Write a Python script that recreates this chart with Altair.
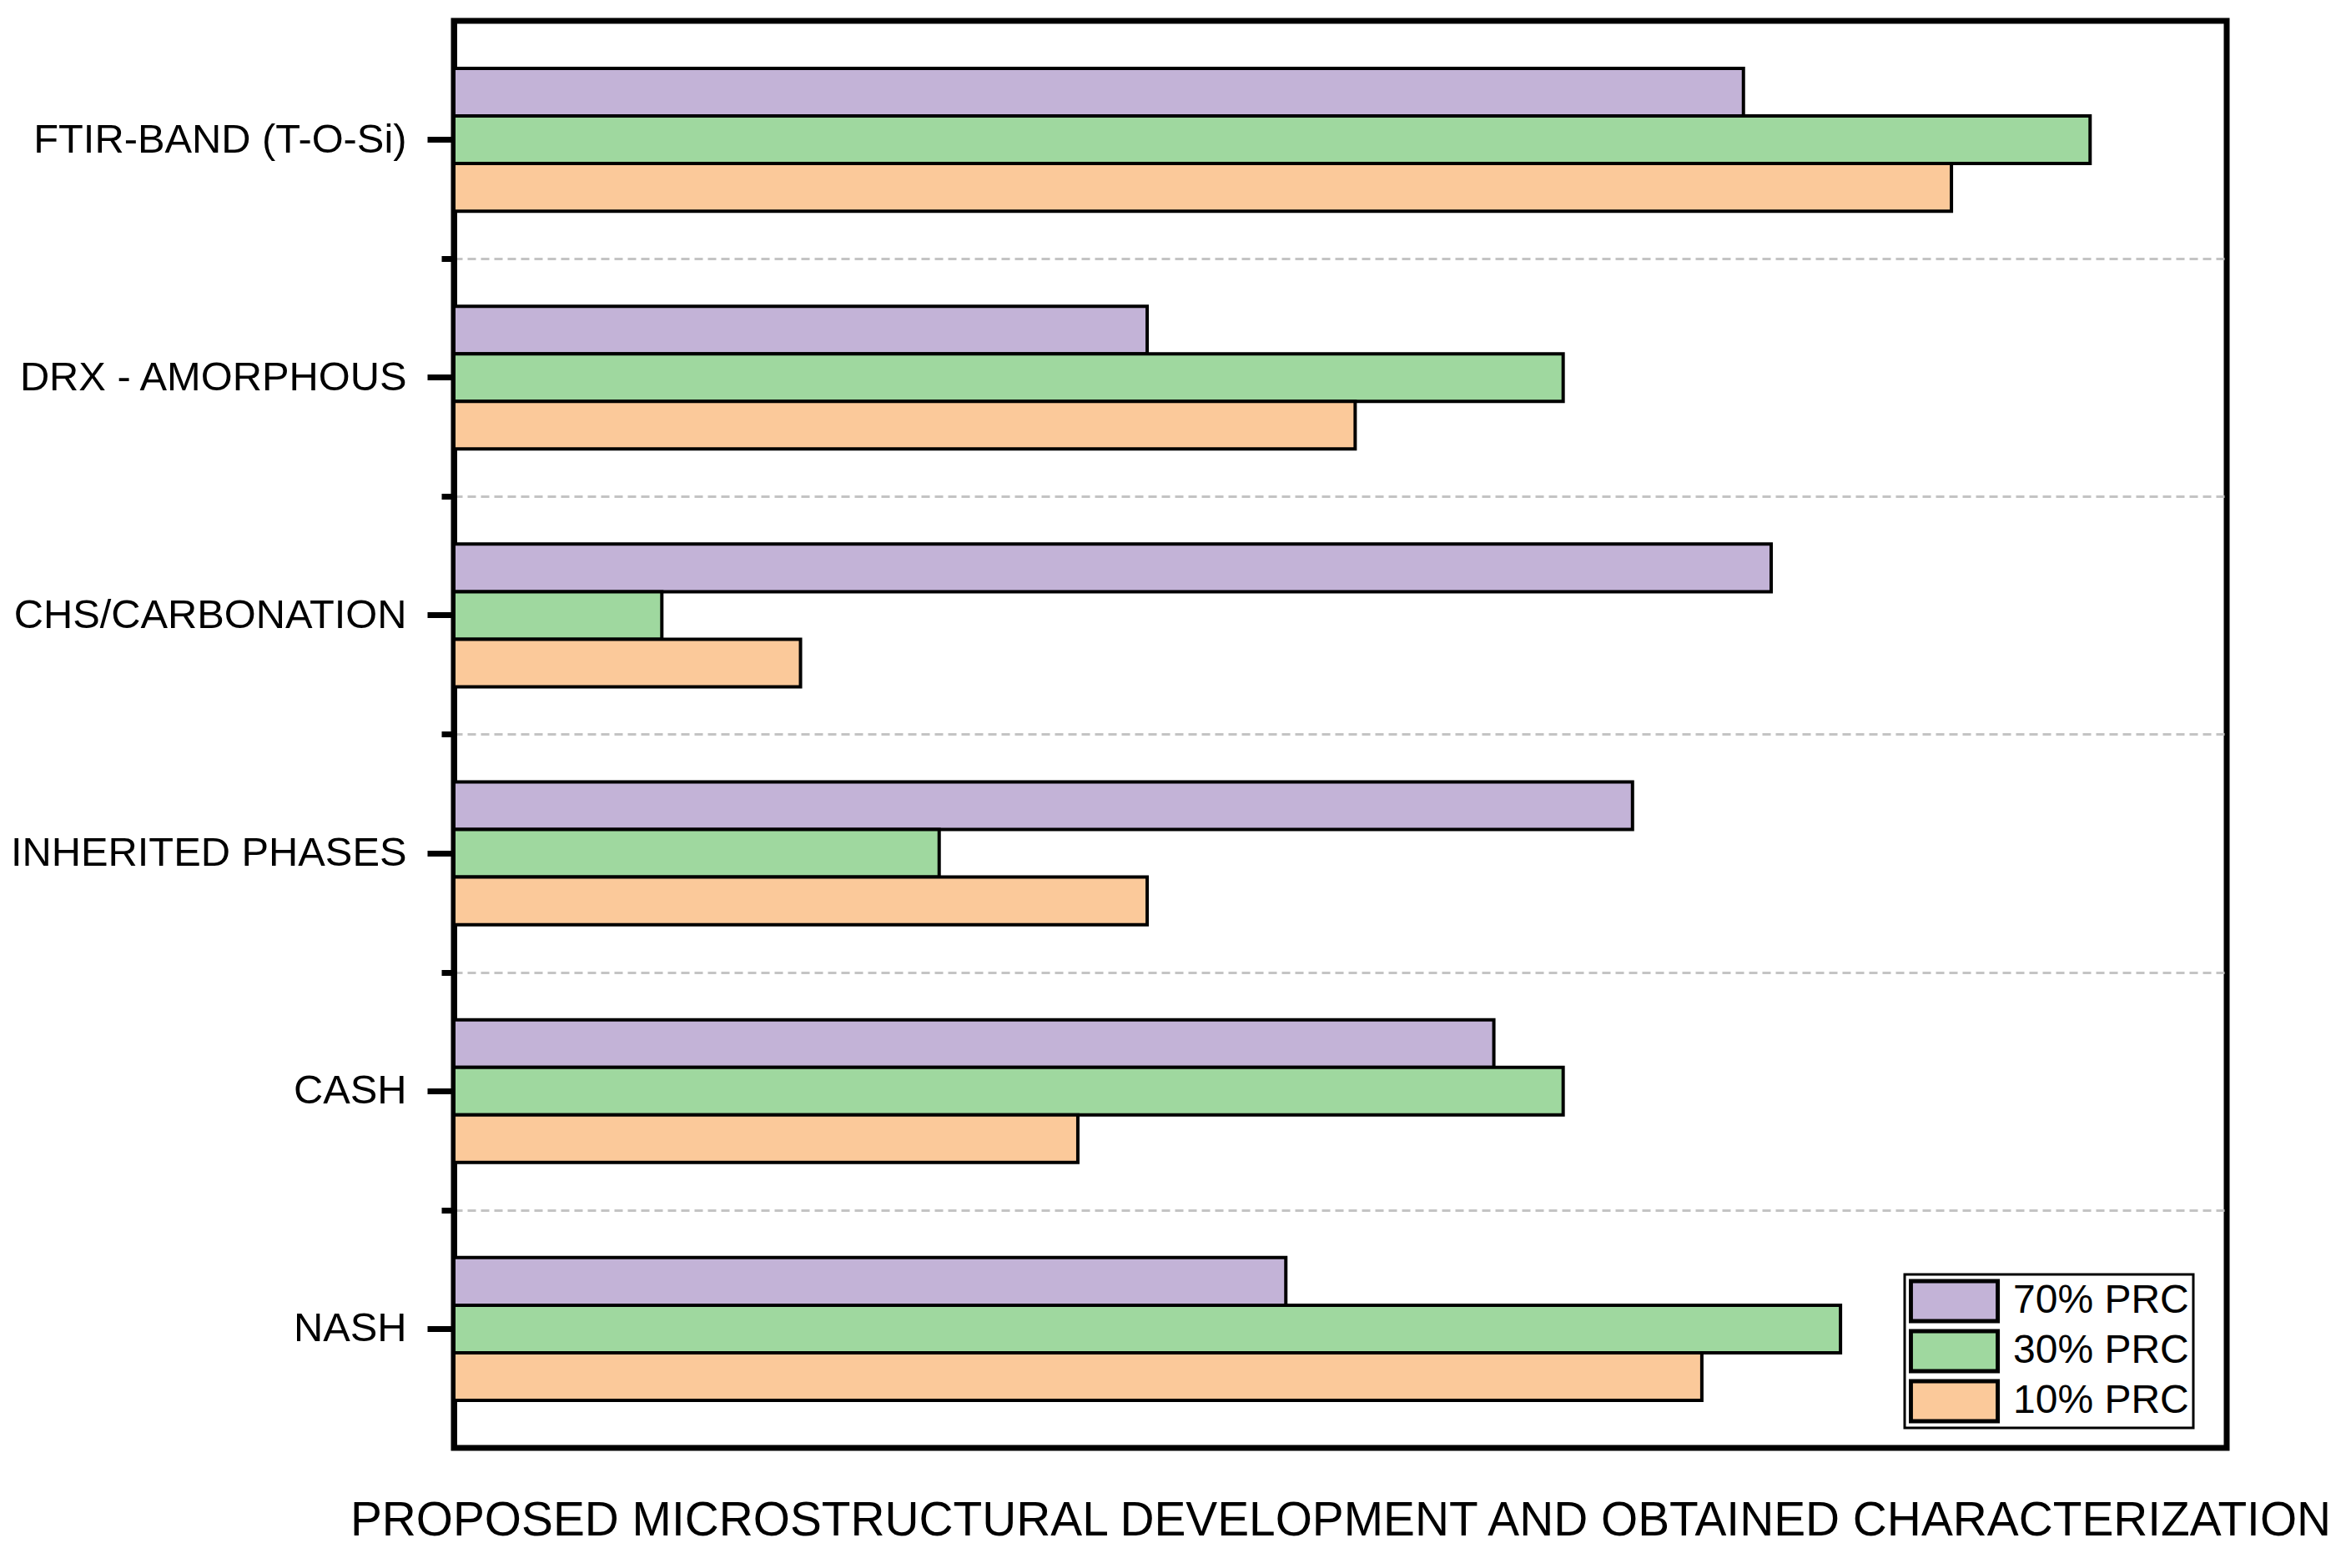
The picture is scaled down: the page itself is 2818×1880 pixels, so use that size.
import altair as alt
import pandas as pd

categories = ["FTIR-BAND (T-O-Si)", "DRX - AMORPHOUS", "CHS/CARBONATION",
              "INHERITED PHASES", "CASH", "NASH"]
series = ["70% PRC", "30% PRC", "10% PRC"]
prc70 = [18.6, 10, 19, 17, 15, 12]
prc30 = [23.6, 16, 3, 7, 16, 20]
prc10 = [21.6, 13, 5, 10, 9, 18]
colors = ["#C3B3D7", "#9FD89F", "#FBC99A"]
x_title = "PROPOSED MICROSTRUCTURAL DEVELOPMENT AND OBTAINED CHARACTERIZATION"

rows = []
for name, vals in zip(series, [prc70, prc30, prc10]):
    for c, v in zip(categories, vals):
        rows.append({"category": c, "series": name, "value": v})
df = pd.DataFrame(rows)

FONT = "Liberation Sans"
W, H = 2125, 1711

grid_layer = alt.Chart(df).mark_point(opacity=0).encode(
    y=alt.Y("category:N", sort=categories,
            scale=alt.Scale(domain=categories, paddingInner=0, paddingOuter=0),
            axis=alt.Axis(title=None, orient="left", labels=False,
                          values=categories[1:], tickOffset=-H / 12,
                          tickSize=15, tickWidth=7, tickColor="black", domain=False,
                          grid=True, gridColor="#C4C4C4", gridDash=[10, 6], gridWidth=3)),
)

bars = alt.Chart(df).mark_bar(stroke="black", strokeWidth=4).encode(
    x=alt.X("value:Q", scale=alt.Scale(domain=[0, 25.57], nice=False, zero=True),
            axis=alt.Axis(title=x_title, labels=False, ticks=False, domain=False, grid=False,
                          titleFontSize=56.8, titleFont=FONT, titleFontWeight="normal",
                          titleColor="black", titlePadding=59)),
    y=alt.Y("category:N", sort=categories,
            scale=alt.Scale(domain=categories, paddingInner=0.4, paddingOuter=0.2),
            axis=alt.Axis(title=None, orient="left", labelFontSize=48.8, labelFont=FONT,
                          labelColor="black", labelPadding=25, labelLimit=1000,
                          tickSize=32, tickWidth=7, tickColor="black",
                          domain=True, domainWidth=7, domainColor="black", grid=False)),
    yOffset=alt.YOffset("series:N", sort=series,
                        scale=alt.Scale(domain=series, paddingInner=0, paddingOuter=0)),
    color=alt.Color("series:N", sort=series,
                    scale=alt.Scale(domain=series, range=colors),
                    legend=alt.Legend(title=None, orient="none", legendX=1739, legendY=1503,
                                      symbolType="M-2.17,-1H2.17V1H-2.17Z", symbolSize=2304,
                                      symbolStrokeColor="black", symbolStrokeWidth=5,
                                      symbolOpacity=1, symbolOffset=28,
                                      labelFontSize=48, labelFont=FONT, labelColor="black",
                                      labelOffset=44, labelLimit=1000, rowPadding=6,
                                      clipHeight=54,
                                      padding=5, strokeColor="black", fillColor="white")),
)

chart = alt.layer(grid_layer, bars).resolve_scale(y="independent").resolve_axis(
    y="independent").properties(
    width=W, height=H,
    padding={"left": 4, "top": 17, "right": 5, "bottom": 5},
).configure_view(stroke="black", strokeWidth=7).configure_legend(strokeWidth=3)

chart.save("out.html", embed_options={"renderer": "svg", "actions": False})
